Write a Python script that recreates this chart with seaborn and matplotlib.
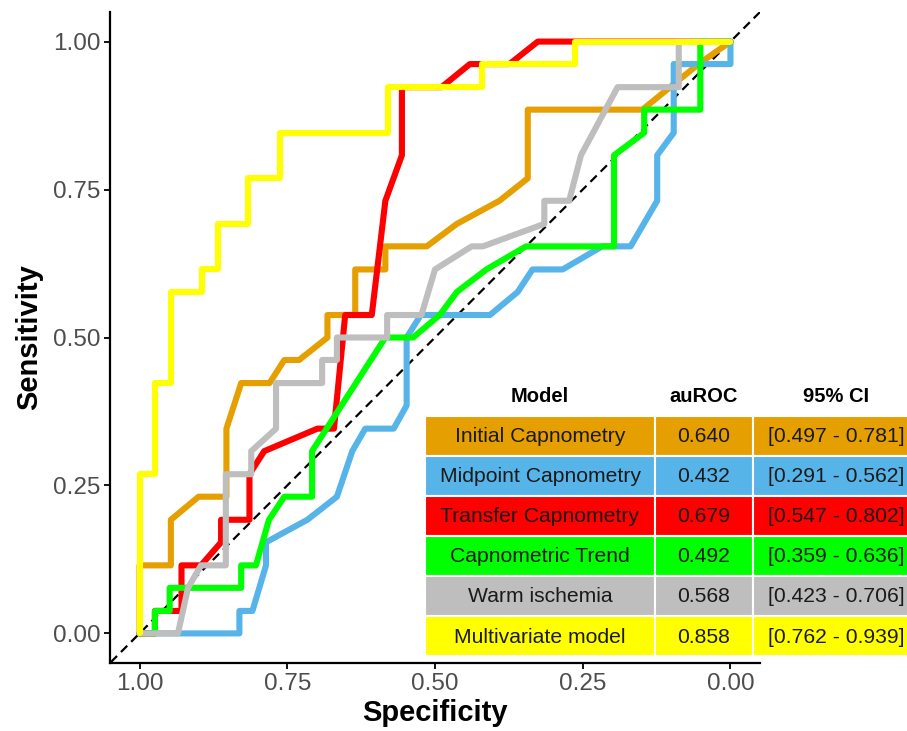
import pandas as pd
import matplotlib.pyplot as plt
import seaborn as sns
from matplotlib.patches import Rectangle

models = ['Initial Capnometry', 'Midpoint Capnometry', 'Transfer Capnometry',
          'Capnometric Trend', 'Warm ischemia', 'Multivariate model']
colors = ['#E69F00', '#56B4E9', '#FF0000', '#00FF00', '#BEBEBE', '#FFFF00']
auroc = ['0.640', '0.432', '0.679', '0.492', '0.568', '0.858']
ci = ['[0.497 - 0.781]', '[0.291 - 0.562]', '[0.547 - 0.802]',
      '[0.359 - 0.636]', '[0.423 - 0.706]', '[0.762 - 0.939]']

# false positive rate (1 - specificity) and sensitivity
initial_fpr = [0, 0, 0.053, 0.053, 0.1, 0.147, 0.147, 0.172, 0.22, 0.245, 0.27, 0.318, 0.318,
               0.365, 0.365, 0.416, 0.416, 0.486, 0.537, 0.609, 0.657, 0.657, 0.851, 0.946, 1.0]
initial_sens = [0, 0.115, 0.115, 0.192, 0.231, 0.231, 0.346, 0.423, 0.423, 0.462, 0.462, 0.5, 0.538,
                0.538, 0.615, 0.615, 0.654, 0.654, 0.692, 0.731, 0.769, 0.885, 0.885, 0.962, 1.0]

midpoint_fpr = [0, 0.169, 0.169, 0.191, 0.214, 0.214, 0.284, 0.334, 0.36, 0.382, 0.43, 0.452, 0.452,
                0.476, 0.593, 0.64, 0.665, 0.716, 0.783, 0.831, 0.876, 0.876, 0.904, 0.904, 1.0, 1.0]
midpoint_sens = [0, 0, 0.038, 0.038, 0.115, 0.154, 0.192, 0.231, 0.308, 0.346, 0.346, 0.385, 0.5,
                 0.538, 0.538, 0.577, 0.615, 0.615, 0.654, 0.654, 0.731, 0.808, 0.846, 0.962, 0.962, 1.0]

transfer_fpr = [0, 0.026, 0.026, 0.071, 0.071, 0.104, 0.138, 0.138, 0.186, 0.186, 0.211, 0.301, 0.329,
                0.348, 0.393, 0.416, 0.444, 0.444, 0.511, 0.559, 0.626, 0.674, 1.0]
transfer_sens = [0, 0, 0.038, 0.038, 0.115, 0.115, 0.154, 0.192, 0.192, 0.269, 0.308, 0.346, 0.346,
                 0.538, 0.538, 0.731, 0.808, 0.923, 0.923, 0.962, 0.962, 1.0, 1.0]

trend_fpr = [0, 0.026, 0.026, 0.051, 0.051, 0.172, 0.172, 0.197, 0.219, 0.245, 0.292, 0.292, 0.416,
             0.463, 0.508, 0.537, 0.587, 0.654, 0.803, 0.803, 0.854, 0.854, 0.949, 0.949, 1.0]
trend_sens = [0, 0, 0.038, 0.038, 0.077, 0.077, 0.115, 0.115, 0.192, 0.231, 0.231, 0.308, 0.5,
              0.5, 0.538, 0.577, 0.615, 0.654, 0.654, 0.808, 0.846, 0.885, 0.885, 1.0, 1.0]

warm_fpr = [0, 0.065, 0.082, 0.104, 0.146, 0.146, 0.189, 0.189, 0.231, 0.231, 0.309, 0.309, 0.334,
            0.334, 0.419, 0.419, 0.477, 0.5, 0.562, 0.581, 0.685, 0.685, 0.727, 0.747, 0.809, 0.9125,
            0.9125, 1.0]
warm_sens = [0, 0, 0.077, 0.115, 0.115, 0.269, 0.269, 0.308, 0.346, 0.423, 0.423, 0.462, 0.462,
             0.5, 0.5, 0.538, 0.538, 0.615, 0.654, 0.654, 0.692, 0.731, 0.731, 0.808, 0.923, 0.923,
             1.0, 1.0]

multi_fpr = [0, 0, 0.026, 0.026, 0.053, 0.053, 0.105, 0.105, 0.132, 0.132, 0.184, 0.184, 0.237,
             0.237, 0.421, 0.421, 0.579, 0.579, 0.737, 0.737, 1.0]
multi_sens = [0, 0.269, 0.269, 0.423, 0.423, 0.577, 0.577, 0.615, 0.615, 0.692, 0.692, 0.769, 0.769,
              0.846, 0.846, 0.923, 0.923, 0.962, 0.962, 1.0, 1.0]

curves = [(initial_fpr, initial_sens), (midpoint_fpr, midpoint_sens), (transfer_fpr, transfer_sens),
          (trend_fpr, trend_sens), (warm_fpr, warm_sens), (multi_fpr, multi_sens)]

rows = []
for name, (fpr, sens) in zip(models, curves):
    for i, (f, s) in enumerate(zip(fpr, sens)):
        rows.append({'model': name, 'order': i, 'Specificity': 1 - f, 'Sensitivity': s})
df = pd.DataFrame(rows)

sns.set_style('white')
plt.rcParams['font.family'] = ['Liberation Sans', 'DejaVu Sans']

fig = plt.figure(figsize=(9.07, 7.31), dpi=100)
ax = fig.add_axes([110 / 907, 1 - 663 / 731, 650 / 907, 651 / 731])

ax.axline((1, 0), (0, 1), color='black', lw=1.6, ls=(0, (4, 2.5)), zorder=1)
sns.lineplot(data=df, x='Specificity', y='Sensitivity', hue='model', hue_order=models,
             palette=dict(zip(models, colors)), sort=False, estimator=None, units='model',
             lw=4.4, legend=False, ax=ax, zorder=2)
for line in ax.lines:
    line.set_solid_joinstyle('round')

ax.set_xlim(1.05, -0.05)
ax.set_ylim(-0.05, 1.05)
ticks = [1.0, 0.75, 0.5, 0.25, 0.0]
ax.set_xticks(ticks, ['1.00', '0.75', '0.50', '0.25', '0.00'])
ax.set_yticks(ticks, ['1.00', '0.75', '0.50', '0.25', '0.00'])
ax.tick_params(axis='both', length=4, width=1.3, color='black', labelsize=17.5,
               labelcolor='#4D4D4D', pad=3, direction='out', bottom=True, left=True)
sns.despine(ax=ax)
for sp in ['left', 'bottom']:
    ax.spines[sp].set_linewidth(1.6)
    ax.spines[sp].set_color('black')
ax.set_xlabel('Specificity', fontsize=21, fontweight='bold', labelpad=3, color='black')
ax.set_ylabel('Sensitivity', fontsize=21, fontweight='bold', labelpad=7, color='black')

# table overlay in figure pixel units
tab = fig.add_axes([0, 0, 1, 1], facecolor='none')
tab.set_xlim(0, 907)
tab.set_ylim(731, 0)
tab.axis('off')
col_edges = [425, 655, 753, 919]
row_top, row_h = 415.5, 40.1
headers = ['Model', 'auROC', '95% CI']
for j, h in enumerate(headers):
    tab.text((col_edges[j] + col_edges[j + 1]) / 2, 396, h, ha='center', va='center',
             fontsize=14.5, fontweight='bold', color='black')
for i, (name, c, a, cint) in enumerate(zip(models, colors, auroc, ci)):
    y0 = row_top + i * row_h
    for j, txt in enumerate([name, a, cint]):
        tab.add_patch(Rectangle((col_edges[j], y0), col_edges[j + 1] - col_edges[j], row_h,
                                facecolor=c, edgecolor='white', lw=1.5))
        tab.text((col_edges[j] + col_edges[j + 1]) / 2, y0 + row_h / 2 + 1, txt,
                 ha='center', va='center', fontsize=15.2, color='#1A1A1A')

fig.savefig('out.png', dpi=100)
